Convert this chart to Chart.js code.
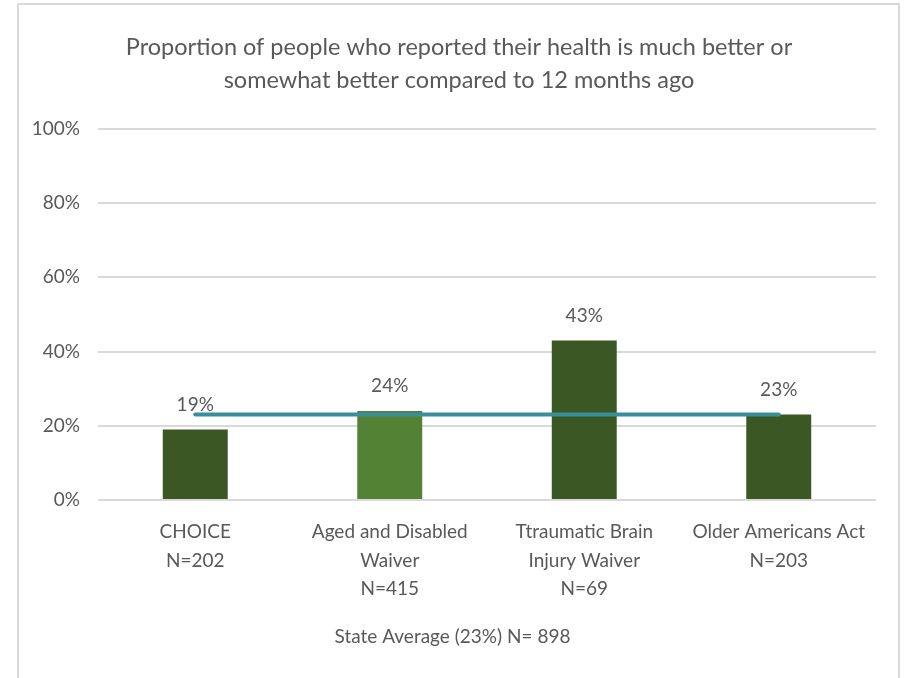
<!DOCTYPE html>
<html>
<head>
<meta charset="utf-8">
<script src="https://cdn.jsdelivr.net/npm/chart.js@4.4.1/dist/chart.umd.min.js"></script>
<style>
  html, body { margin: 0; padding: 0; background: #fff; }
  #wrap { position: relative; width: 905px; height: 678px; overflow: hidden; }
  #frame { position: absolute; left: 17px; top: 3px; width: 879px; height: 720px; border: 2px solid #d9d9d9; pointer-events: none; }
  canvas { position: absolute; left: 0; top: 0; }
</style>
</head>
<body>
<div id="wrap">
  <canvas id="chart" width="905" height="678"></canvas>
  <div id="frame"></div>
</div>
<script>
const categories = [
  ['CHOICE', 'N=202'],
  ['Aged and Disabled', 'Waiver', 'N=415'],
  ['Ttraumatic Brain', 'Injury Waiver', 'N=69'],
  ['Older Americans Act', 'N=203']
];
const programValues = [19, 24, 43, 23];
const barColors = ['#3a5724', '#548235', '#3a5724', '#3a5724'];
const stateAverage = [23, 23, 23, 23];
const stateLabel = 'State Average (23%) N= 898';
const titleLines = [
  'Proportion of people who reported their health is much better or',
  'somewhat better compared to 12 months ago'
];

const FONT = "Lato, 'DejaVu Sans Condensed', sans-serif";
const TEXT = '#595959';
const SMALL = 19;

// value labels above each bar + the state average caption under the axis
const barLabels = {
  id: 'barLabels',
  afterDatasetsDraw(chart) {
    const ctx = chart.ctx;
    const meta = chart.getDatasetMeta(1);
    ctx.save();
    ctx.font = `${SMALL}px ${FONT}`;
    ctx.fillStyle = TEXT;
    ctx.textAlign = 'center';
    ctx.textBaseline = 'middle';
    meta.data.forEach((bar, i) => {
      ctx.fillText(programValues[i] + '%', bar.x, bar.y - 25);
    });
    ctx.fillText(stateLabel, chart.width / 2, chart.chartArea.bottom + 137);
    ctx.restore();
  }
};

new Chart(document.getElementById('chart'), {
  data: {
    labels: categories,
    datasets: [
      {
        type: 'line',
        label: stateLabel,
        data: stateAverage,
        borderColor: '#368f99',
        borderWidth: 4,
        borderCapStyle: 'round',
        pointRadius: 0,
        order: 0
      },
      {
        type: 'bar',
        label: 'Programs',
        data: programValues,
        backgroundColor: barColors,
        barPercentage: 0.334,
        categoryPercentage: 1,
        order: 1
      }
    ]
  },
  options: {
    responsive: false,
    animation: false,
    layout: { padding: { left: 20, right: 7, top: 0, bottom: 68 } },
    plugins: {
      legend: { display: false },
      tooltip: { enabled: false },
      title: {
        display: true,
        text: titleLines,
        color: TEXT,
        font: { family: FONT, size: 23.5, weight: 'normal', lineHeight: 1.4 },
        padding: { top: 31, bottom: 32 }
      }
    },
    scales: {
      x: {
        grid: { display: false, drawTicks: false },
        border: { display: false },
        ticks: {
          color: TEXT,
          padding: 18,
          maxRotation: 0,
          autoSkip: false,
          font: { family: FONT, size: SMALL, lineHeight: 1.5 }
        },
        afterFit(scale) { scale.height = 110; }
      },
      y: {
        min: 0,
        max: 100,
        grid: { color: '#d9d9d9', lineWidth: 2, drawTicks: false },
        border: { display: false },
        ticks: {
          stepSize: 20,
          color: TEXT,
          padding: 18,
          font: { family: FONT, size: SMALL },
          callback: v => v + '%'
        },
        afterFit(scale) { scale.width = 78; }
      },
      // empty right axis only keeps the plot edge where the reference has it
      y2: {
        position: 'right',
        grid: { display: false, drawTicks: false },
        border: { display: false },
        ticks: { display: false },
        afterFit(scale) { scale.width = 22; }
      }
    }
  },
  plugins: [barLabels]
});
</script>
</body>
</html>
